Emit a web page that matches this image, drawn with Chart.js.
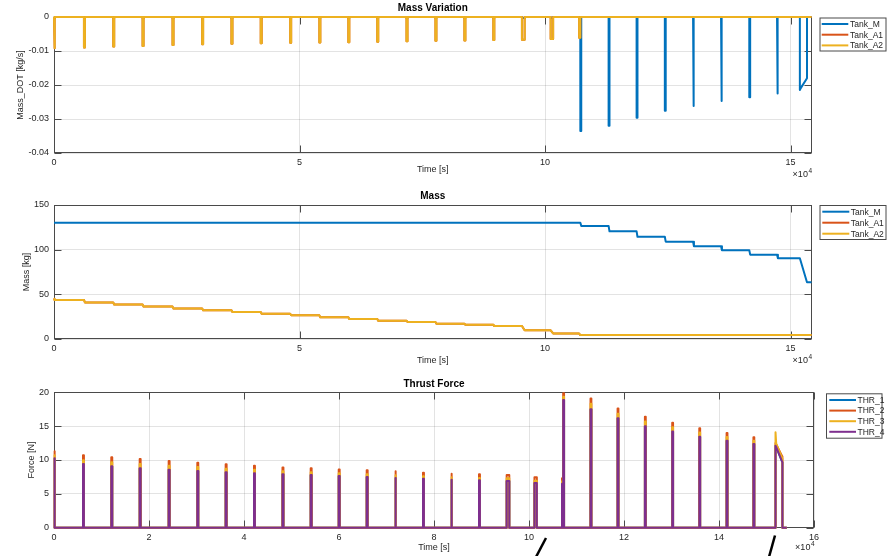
<!DOCTYPE html>
<html><head><meta charset="utf-8">
<script src="https://cdn.jsdelivr.net/npm/chart.js@4.4.0/dist/chart.umd.min.js"></script>
<style>
html,body{margin:0;padding:0;background:#fff;}
body{width:892px;height:556px;position:relative;overflow:hidden;}
.panel{position:absolute;left:0;width:892px;}
#p1{top:0;height:185px}
#p2{top:185px;height:185px}
#p3{top:370px;height:186px}
svg{position:absolute;left:0;top:0;pointer-events:none}
</style></head><body>
<div class="panel" id="p1"><canvas id="c1"></canvas></div>
<div class="panel" id="p2"><canvas id="c2"></canvas></div>
<div class="panel" id="p3"><canvas id="c3"></canvas></div>
<svg width="892" height="556"><line x1="536" y1="557" x2="546" y2="538" stroke="#000" stroke-width="2.5"/><line x1="769" y1="557" x2="775" y2="535.5" stroke="#000" stroke-width="2.5"/></svg>
<script>
// ---------- DATA ----------
const endTime = 154270;
// A-tank phase pulses
const aPulseStart = [0, 6100, 12060, 18040, 24140, 30170, 36140, 42100, 48100, 54040, 59940, 65830, 71790, 77680, 83580, 89470, 95300, 101150, 106950];
const aPulseEnd   = [200, 6300, 12260, 18240, 24340, 30370, 36340, 42300, 48300, 54240, 60140, 66030, 71990, 77880, 83780, 89670, 95850, 101650, 107180];
const a2RateA  = [-0.0092, -0.0090, -0.0087, -0.0085, -0.0082, -0.0080, -0.0079, -0.0077, -0.0076, -0.0075, -0.0074, -0.0073, -0.0071, -0.0070, -0.0069, -0.0068, -0.0067, -0.0065, -0.0061];
const mRateA   = [-0.0003, -0.0003, -0.0003, -0.0003, -0.0003, -0.0003, -0.0003, -0.0003, -0.0003, -0.0003, -0.0003, -0.0003, -0.0003, -0.0003, -0.0003, -0.0003, -0.0003, -0.0003, -0.0003];
const a2MassStart = 45.0;
const a2MassAfter = [43.7, 40.9, 38.6, 36.3, 34.1, 32.1, 30.2, 28.2, 26.5, 24.3, 22.4, 20.5, 19.0, 17.2, 16.0, 14.5, 9.7, 6.2, 4.4];
const thr2A = [11.3, 10.7, 10.4, 10.15, 9.85, 9.6, 9.36, 9.16, 8.9, 8.77, 8.6, 8.47, 8.33, 8.12, 7.97, 7.88, 7.78, 7.44, 7.3];
const thr3A = [10.7, 9.95, 9.65, 9.4, 9.15, 8.95, 8.7, 8.55, 8.35, 8.2, 8.05, 7.9, 7.75, 7.6, 7.45, 7.35, 7.3, 6.95, 6.85];
const thr4A = [10.25, 9.4, 9.07, 8.77, 8.57, 8.37, 8.18, 8.03, 7.88, 7.78, 7.63, 7.49, 7.34, 7.24, 7.09, 7.0, 6.9, 6.6, 6.5];
// Main-tank phase pulses
const mPulseStart = [107200, 112950, 118650, 124400, 130150, 135850, 141600, 147250];
const mPulseEnd   = [107380, 113130, 118830, 124580, 130330, 136030, 141780, 147430];
const mRateM  = [-0.0335, -0.0320, -0.0296, -0.0276, -0.0262, -0.0247, -0.0236, -0.0225];
const mMassStart = 130.2;
const mMassAfter = [126.5, 120.5, 114.5, 109.0, 103.7, 99.3, 94.4, 90.3];
const thr2M = [19.85, 19.1, 17.6, 16.4, 15.5, 14.7, 14.0, 13.35];
const thr3M = [19.35, 18.3, 16.85, 15.7, 14.85, 14.05, 13.4, 12.85];
const thr4M = [18.86, 17.5, 16.15, 15.0, 14.2, 13.45, 12.85, 12.35];
// Final long burn
const finalT    = [151900, 152050, 153350];
const finalRate = [-0.0215, -0.0210, -0.0180];
const finalMass = [90.3, 63.5];
const thr2F = [12.5, 12.3, 10.5];
const thr3F = [14.1, 12.4, 10.2];
const thr4F = [12.1, 11.9, 9.65];
// Axis ticks
const timeTicksAB = [0, 50000, 100000, 150000];
const timeTicksC  = [0, 20000, 40000, 60000, 80000, 100000, 120000, 140000, 160000];
const rateTicks  = [-0.04, -0.03, -0.02, -0.01, 0];
const massTicks  = [0, 50, 100, 150];
const forceTicks = [0, 5, 10, 15, 20];
const tankNames = ['Tank_M', 'Tank_A1', 'Tank_A2'];
const thrNames  = ['THR_1', 'THR_2', 'THR_3', 'THR_4'];

// ---------- build point tables ----------
function pulsePts(starts, ends, peaks) {
  const p = [];
  for (let i = 0; i < starts.length; i++) {
    p.push({x: starts[i], y: 0}, {x: starts[i], y: peaks[i]}, {x: ends[i], y: peaks[i]}, {x: ends[i], y: 0});
  }
  return p;
}
function finalPts(ts, vals) {
  const p = [{x: ts[0], y: 0}];
  ts.forEach((t, i) => p.push({x: t, y: vals[i]}));
  p.push({x: ts[ts.length - 1], y: 0});
  return p;
}
function stepPts(start, starts, ends, after) {
  const p = [{x: 0, y: start}];
  let prev = start;
  for (let i = 0; i < starts.length; i++) {
    p.push({x: starts[i], y: prev}, {x: ends[i], y: after[i]});
    prev = after[i];
  }
  return p;
}
const a2RatePts = pulsePts(aPulseStart, aPulseEnd, a2RateA).concat([{x: endTime, y: 0}]);
const mRatePts = pulsePts(aPulseStart, aPulseEnd, mRateA)
  .concat(pulsePts(mPulseStart, mPulseEnd, mRateM))
  .concat(finalPts(finalT, finalRate)).concat([{x: endTime, y: 0}]);
const a2MassPts = stepPts(a2MassStart, aPulseStart, aPulseEnd, a2MassAfter).concat([{x: endTime, y: a2MassAfter[a2MassAfter.length - 1]}]);
const mMassPts = stepPts(mMassStart, mPulseStart, mPulseEnd, mMassAfter)
  .concat([{x: finalT[0], y: finalMass[0]}, {x: finalT[2], y: finalMass[1]}, {x: endTime, y: finalMass[1]}]);
function thrPts(a, m, f) {
  return pulsePts(aPulseStart, aPulseEnd, a).concat(pulsePts(mPulseStart, mPulseEnd, m)).concat(finalPts(finalT, f)).concat([{x: endTime, y: 0}]);
}
const thr2Pts = thrPts(thr2A, thr2M, thr2F);
const thr3Pts = thrPts(thr3A, thr3M, thr3F);
const thr4Pts = thrPts(thr4A, thr4M, thr4F);
const thr1Pts = thr4Pts;

// ---------- styling ----------
const C = {blue: '#0072BD', orange: '#D95319', yellow: '#EDB120', purple: '#7E2F8E'};
const FONT = 'Liberation Sans, Arial, Helvetica, sans-serif';
const TXT = '#262626';
const GRID = 'rgba(38,38,38,0.13)';
const AXC = '#4a4a4a';

const decor = {
  id: 'decor',
  beforeDatasetsDraw(chart, args, o) {
    const ctx = chart.ctx, a = chart.chartArea;
    const L = Math.round(a.left) + 0.5, R = Math.round(a.right) - 0.5, T = Math.round(a.top) + 0.5, B = Math.round(a.bottom) - 0.5;
    ctx.save();
    ctx.strokeStyle = AXC; ctx.lineWidth = 1;
    ctx.strokeRect(L, T, R - L, B - T);
    const tl = 7;
    ctx.beginPath();
    chart.scales.x.ticks.forEach(t => {
      const px = Math.round(chart.scales.x.getPixelForValue(t.value)) + 0.5;
      ctx.moveTo(px, B); ctx.lineTo(px, B - tl);
      ctx.moveTo(px, T); ctx.lineTo(px, T + tl);
    });
    chart.scales.y.ticks.forEach(t => {
      const py = Math.round(chart.scales.y.getPixelForValue(t.value)) + 0.5;
      ctx.moveTo(L, py); ctx.lineTo(L + tl, py);
      ctx.moveTo(R, py); ctx.lineTo(R - tl, py);
    });
    ctx.stroke();
    ctx.restore();
  },
  afterDraw(chart, args, o) {
    const ctx = chart.ctx, a = chart.chartArea;
    ctx.save();
    // title
    ctx.fillStyle = '#000';
    ctx.font = 'bold 10px ' + FONT;
    ctx.textAlign = 'center'; ctx.textBaseline = 'middle';
    ctx.fillText(o.title, (a.left + a.right) / 2, a.top - 8.5);
    // exponent
    ctx.fillStyle = TXT;
    ctx.textAlign = 'left'; ctx.textBaseline = 'alphabetic';
    ctx.font = '9px ' + FONT;
    const w1 = ctx.measureText('\u00d710').width;
    ctx.font = '6.5px ' + FONT;
    const w2 = ctx.measureText('4').width;
    const ex = a.right - w1 - w2, ey = a.bottom + o.expDy;
    ctx.font = '9px ' + FONT;
    ctx.fillText('\u00d710', ex, ey);
    ctx.font = '6.5px ' + FONT;
    ctx.fillText('4', ex + w1 + 0.5, ey - 4);
    // legend
    const lg = o.legend;
    ctx.fillStyle = '#fff';
    ctx.fillRect(lg.x, lg.y, lg.w, lg.h);
    ctx.strokeStyle = AXC; ctx.lineWidth = 1;
    ctx.strokeRect(lg.x + 0.5, lg.y + 0.5, lg.w, lg.h);
    ctx.font = '8.5px ' + FONT;
    ctx.textBaseline = 'middle'; ctx.textAlign = 'left';
    chart.data.datasets.forEach((ds, i) => {
      const y = lg.y + lg.row0 + i * lg.step;
      ctx.strokeStyle = ds.borderColor; ctx.lineWidth = 2;
      ctx.beginPath(); ctx.moveTo(lg.l0, y); ctx.lineTo(lg.l1, y); ctx.stroke();
      ctx.fillStyle = TXT;
      ctx.fillText(ds.label, lg.tx, y + 0.5);
    });
    ctx.restore();
  }
};

function xScale(max, ticksArr, h, pb) {
  return {
    type: 'linear', min: 0, max: max,
    afterBuildTicks: s => { s.ticks = ticksArr.map(v => ({value: v})); },
    afterFit: s => { s.height = h; },
    grid: {color: GRID, drawTicks: false, lineWidth: 1},
    border: {display: false},
    ticks: {padding: 4, font: {family: FONT, size: 9}, color: TXT, maxRotation: 0, autoSkip: false, callback: v => String(v / 1e4)},
    title: {display: true, text: 'Time [s]', font: {family: FONT, size: 9}, color: TXT, padding: {top: 0, bottom: pb}}
  };
}
function yScale(min, max, ticksArr, label, pt) {
  return {
    type: 'linear', min: min, max: max,
    afterBuildTicks: s => { s.ticks = ticksArr.map(v => ({value: v})); },
    afterFit: s => { s.width = 54; },
    grid: {color: GRID, drawTicks: false, lineWidth: 1},
    border: {display: false},
    ticks: {padding: 5, font: {family: FONT, size: 9}, color: TXT, autoSkip: false, callback: v => String(v)},
    title: {display: true, text: label, font: {family: FONT, size: 9}, color: TXT, padding: {top: pt, bottom: 0}}
  };
}
function ds(label, data, color, order) {
  return {label, data, borderColor: color, backgroundColor: color, borderWidth: 2, pointRadius: 0, pointHoverRadius: 0,
    tension: 0, fill: false, clip: 3, order, borderJoinStyle: 'round'};
}
function common(padding, x, y, decorOpts) {
  return {
    responsive: true, maintainAspectRatio: false, animation: false, devicePixelRatio: 1,
    layout: {padding},
    events: [],
    plugins: {legend: {display: false}, tooltip: {enabled: false}, decor: decorOpts},
    scales: {x, y}
  };
}

new Chart(document.getElementById('c1'), {
  type: 'line',
  data: {datasets: [
    ds(tankNames[0], mRatePts, C.blue, 3),
    ds(tankNames[1], a2RatePts, C.orange, 2),
    ds(tankNames[2], a2RatePts, C.yellow, 1)
  ]},
  options: common({top: 17, right: 80.5, left: 0, bottom: 0},
    xScale(endTime, timeTicksAB, 32, 9.6),
    yScale(-0.04, 0, rateTicks, 'Mass_DOT [kg/s]', 15.6),
    {title: 'Mass Variation', expDy: 24, legend: {x: 819.5, y: 17.5, w: 66, h: 33, row0: 6.5, step: 10.7, l0: 821.7, l1: 848.3, tx: 850}}),
  plugins: [decor]
});

new Chart(document.getElementById('c2'), {
  type: 'line',
  data: {datasets: [
    ds(tankNames[0], mMassPts, C.blue, 3),
    ds(tankNames[1], a2MassPts, C.orange, 2),
    ds(tankNames[2], a2MassPts, C.yellow, 1)
  ]},
  options: common({top: 20, right: 80.5, left: 0, bottom: 0},
    xScale(endTime, timeTicksAB, 31, 3.6),
    yScale(0, 150, massTicks, 'Mass [kg]', 21.3),
    {title: 'Mass', expDy: 24, legend: {x: 819.5, y: 20, w: 66, h: 34, row0: 6.7, step: 11, l0: 822.3, l1: 849.3, tx: 850.7}}),
  plugins: [decor]
});

new Chart(document.getElementById('c3'), {
  type: 'line',
  data: {datasets: [
    ds(thrNames[0], thr1Pts, C.blue, 4),
    ds(thrNames[1], thr2Pts, C.orange, 3),
    ds(thrNames[2], thr3Pts, C.yellow, 2),
    ds(thrNames[3], thr4Pts, C.purple, 1)
  ]},
  options: common({top: 22.3, right: 78, left: 0, bottom: 0},
    xScale(160000, timeTicksC, 28.3, 2.6),
    yScale(0, 20, forceTicks, 'Force [N]', 26.3),
    {title: 'Thrust Force', expDy: 22.5, legend: {x: 826, y: 23.3, w: 55.5, h: 44.4, row0: 6.7, step: 10.6, l0: 829.3, l1: 856, tx: 857.5}}),
  plugins: [decor]
});
</script>
</body></html>
